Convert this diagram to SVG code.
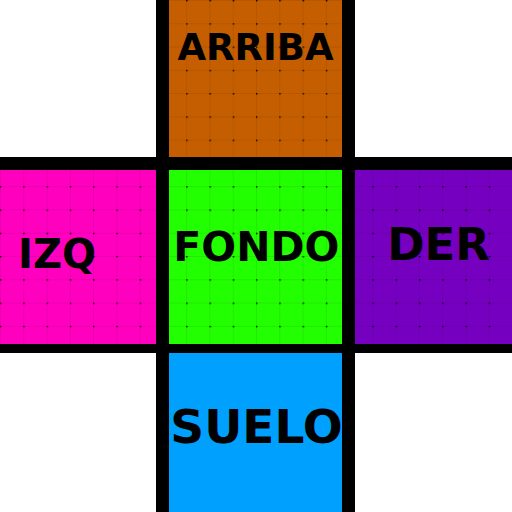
<svg xmlns="http://www.w3.org/2000/svg" width="512" height="512" viewBox="0 0 512 512">
  <defs>
    <pattern id="grid" patternUnits="userSpaceOnUse" x="0" y="0" width="23.2727" height="23.2727">
      <rect x="0" y="0" width="0.8" height="23.2727" fill="#000" fill-opacity="0.09"/>
      <rect x="0" y="0" width="23.2727" height="0.8" fill="#000" fill-opacity="0.09"/>
      <rect x="0" y="0" width="1.4" height="1.4" fill="#000"/>
    </pattern>
    <style>
      .lbl { font-family: "DejaVu Sans", "Liberation Sans", sans-serif; font-weight: bold; fill: #000; text-anchor: middle; }
      .tex { fill: url(#grid); }
    </style>
  </defs>
  <rect x="0" y="0" width="512" height="512" fill="#fff"/>
  <g id="frame" fill="#000">
    <rect x="156" y="0" width="13" height="512"/>
    <rect x="342" y="0" width="13" height="512"/>
    <rect x="0" y="157" width="512" height="13"/>
    <rect x="0" y="344" width="512" height="9"/>
  </g>
  <g id="arriba">
    <rect x="169" y="0" width="173" height="157" fill="#C55E00"/>
    <rect x="169" y="0" width="173" height="157" class="tex"/>
    <text x="255.5" y="60" font-size="37" class="lbl">ARRIBA</text>
  </g>
  <g id="izq">
    <rect x="0" y="170" width="156" height="174" fill="#FF00BF"/>
    <rect x="0" y="170" width="156" height="174" class="tex"/>
    <text x="57" y="268" font-size="40" class="lbl">IZQ</text>
  </g>
  <g id="fondo">
    <rect x="169" y="170" width="173" height="174" fill="#22FF00"/>
    <rect x="169" y="170" width="173" height="174" class="tex"/>
    <text x="256.3" y="260.5" font-size="41" class="lbl">FONDO</text>
  </g>
  <g id="der">
    <rect x="355" y="170" width="157" height="174" fill="#7600BF"/>
    <rect x="355" y="170" width="157" height="174" class="tex"/>
    <text x="438.5" y="260" font-size="45" class="lbl">DER</text>
  </g>
  <g id="suelo">
    <rect x="169" y="353" width="173" height="159" fill="#00A0FF"/>
    <text x="256.5" y="442.5" font-size="47" class="lbl">SUELO</text>
  </g>
  <g id="connectors"/>
</svg>
